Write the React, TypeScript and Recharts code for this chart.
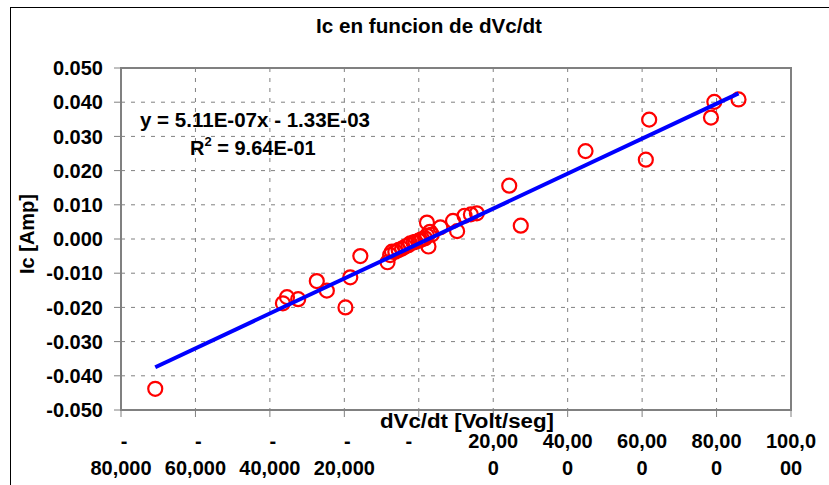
import { ScatterChart, Scatter, XAxis, YAxis, CartesianGrid, ReferenceArea } from "recharts";

const dvdt = [
  -70800, -36500, -35400, -32400, -27400, -24700, -19700, -18400, -15700, -8400,
  -7700, -7200, -6300, -5400, -4500, -3600, -2800, -2300, -1400, -900,
  0, 400, 900, 1700, 2200, 2600, 2200, 3000, 3500, 5800,
  9200, 10300, 12300, 14000, 15600, 24300, 27400, 44800, 61000, 61900,
  78500, 79400, 85900,
];
const ic = [
  -0.0438, -0.0188, -0.017, -0.0176, -0.0123, -0.0151, -0.02, -0.0112, -0.005, -0.0068,
  -0.0047, -0.0037, -0.0037, -0.0032, -0.0028, -0.0022, -0.0018, -0.0013, -0.001, -0.0008,
  -0.0005, -0.0003, 0.0, 0.0002, 0.0048, -0.0022, 0.001, 0.0021, 0.0013, 0.0034,
  0.0053, 0.0023, 0.0068, 0.0072, 0.0075, 0.0156, 0.0039, 0.0257, 0.0232, 0.0349,
  0.0355, 0.0401, 0.0408,
];

// trendline shown in the chart: y = 5.11E-07x - 1.33E-03
const slope = 5.11e-7;
const intercept = -1.33e-3;
const trendX = [-70800, 85900];

const xTicks = [-80000, -60000, -40000, -20000, 0, 20000, 40000, 60000, 80000, 100000];
const xTickTop = ["-", "-", "-", "-", "-", "20,00", "40,00", "60,00", "80,00", "100,0"];
const xTickBottom = ["80,000", "60,000", "40,000", "20,000", "", "0", "0", "0", "0", "00"];
const yTicks = [-0.05, -0.04, -0.03, -0.02, -0.01, 0, 0.01, 0.02, 0.03, 0.04, 0.05];

const font = "'Liberation Sans', Arial, sans-serif";

const points = dvdt.map((x, i) => ({ x, y: ic[i] }));
const trend = trendX.map(x => ({ x, y: slope * x + intercept }));

function XTick(props: any) {
  const { x, y, payload } = props;
  const i = xTicks.indexOf(payload.value);
  // excel pads the zero dash a bit to the left
  const shift = payload.value === 0 ? -10 : payload.value < 0 ? 3 : 0;
  return (
    <text textAnchor="middle" fontSize={20} fontWeight="bold" fill="#000" fontFamily={font}>
      <tspan x={x + shift} y={y + 31}>{xTickTop[i]}</tspan>
      <tspan x={x} y={y + 58}>{xTickBottom[i]}</tspan>
    </text>
  );
}

function RedCircle(props: any) {
  return <circle cx={props.cx} cy={props.cy} r={7} fill="none" stroke="#FF0000" strokeWidth={2.2} />;
}

export default function App() {
  return (
    <div style={{ position: "absolute", left: 0, top: 0, width: 829, height: 485, overflow: "hidden", background: "#fff" }}>
      <div style={{ position: "absolute", left: 10, top: 7, width: 840, height: 500, border: "1px solid #000" }} />
      <div style={{ position: "absolute", left: 0, top: 0 }}>
        <ScatterChart width={829} height={485} margin={{ top: 68, right: 38, left: 0, bottom: 0 }}>
          <CartesianGrid strokeDasharray="4 6" stroke="#808080" />
          <XAxis
            type="number"
            dataKey="x"
            domain={[-80000, 100000]}
            ticks={xTicks}
            interval={0}
            height={75}
            tickSize={7}
            tickMargin={0}
            tick={<XTick />}
            axisLine={{ stroke: "#808080", strokeWidth: 2 }}
            tickLine={{ stroke: "#808080" }}
          />
          <YAxis
            type="number"
            dataKey="y"
            domain={[-0.05, 0.05]}
            ticks={yTicks}
            interval={0}
            width={121}
            tickSize={7}
            tickMargin={11}
            tickFormatter={(v: number) => (Math.abs(v) < 1e-9 ? 0 : v).toFixed(3)}
            tick={{ fontSize: 20, fontWeight: "bold", fill: "#000", fontFamily: font }}
            axisLine={{ stroke: "#808080", strokeWidth: 2 }}
            tickLine={{ stroke: "#808080" }}
          />
          <ReferenceArea x1={-80000} x2={100000} y1={-0.05} y2={0.05} fill="none" stroke="#808080" strokeWidth={2} />
          <Scatter data={points} shape={<RedCircle />} isAnimationActive={false} />
          <Scatter
            data={trend}
            line={{ stroke: "#0000FF", strokeWidth: 4 }}
            shape={() => <g />}
            isAnimationActive={false}
          />
        </ScatterChart>
      </div>
      <svg width={829} height={485} style={{ position: "absolute", left: 0, top: 0, pointerEvents: "none" }}>
        <g fontFamily={font} fontWeight="bold" fontSize={20} fill="#000">
          <text x={429} y={33} textAnchor="middle" textLength={226} lengthAdjust="spacingAndGlyphs">
            Ic en funcion de dVc/dt
          </text>
          <text x={140} y={127} textLength={230} lengthAdjust="spacingAndGlyphs">y = 5.11E-07x - 1.33E-03</text>
          <text x={190} y={155}>
            R<tspan fontSize={13} dy={-9}>2</tspan>
            <tspan dy={9}> = 9.64E-01</tspan>
          </text>
          <text x={467} y={428} textAnchor="middle" textLength={174} lengthAdjust="spacingAndGlyphs">
            dVc/dt [Volt/seg]
          </text>
          <text transform="translate(34,234) rotate(-90)" textAnchor="middle">Ic [Amp]</text>
        </g>
      </svg>
    </div>
  );
}
